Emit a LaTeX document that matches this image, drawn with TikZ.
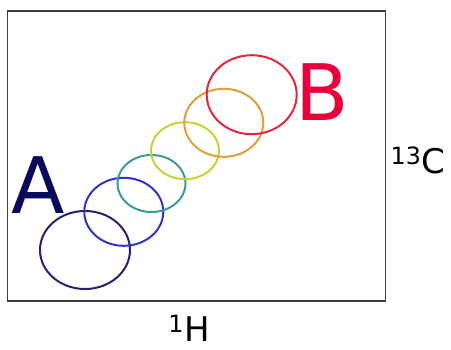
\documentclass[tikz,border=0pt]{standalone}
\usepackage{fontspec}
\setmainfont{DejaVu Sans}
\usetikzlibrary{shapes.geometric}
\definecolor{cnavy}{HTML}{22226E}
\definecolor{cblue}{HTML}{3333C8}
\definecolor{cteal}{HTML}{3C9A98}
\definecolor{cyell}{HTML}{C8D236}
\definecolor{corange}{HTML}{E0A036}
\definecolor{cred}{HTML}{E0283E}
\definecolor{labA}{HTML}{0A0A5C}
\definecolor{labB}{HTML}{E8003C}
\tikzset{
  peak/.style={ellipse, draw=#1, line width=2pt, inner sep=0pt},
  big/.style={font=\fontsize{78}{78}\selectfont, inner sep=0pt},
  axis/.style={font=\fontsize{34}{34}\selectfont, inner sep=0pt, text=black}
}
\begin{document}
\begin{tikzpicture}[x=1pt,y=-1pt]
\useasboundingbox (0,0) rectangle (451,350);
\draw[draw=black!75, line width=1.8pt] (7.5,11) rectangle (385.5,301);
\node[peak=cnavy, minimum width=90pt, minimum height=78pt] (p1) at (85,250) {};
\node[peak=cblue, minimum width=79pt, minimum height=68pt] (p2) at (123.8,211.8) {};
\node[peak=cteal, minimum width=68pt, minimum height=57pt] (p3) at (151.5,183.5) {};
\node[peak=cyell, minimum width=68pt, minimum height=57pt] (p4) at (185,150.7) {};
\node[peak=corange, minimum width=79pt, minimum height=68pt] (p5) at (223.8,122.8) {};
\node[peak=cred, minimum width=90pt, minimum height=79pt] (p6) at (251.7,94.7) {};
\node[big, text=labA, anchor=base] (A) at (38,213.3) {A};
\node[big, text=labB, anchor=base] (B) at (322.5,120.7) {B};
\node[axis, anchor=base] (C) at (418,173.3) {\textsuperscript{13}C};
\node[axis, anchor=base] (H) at (189,342) {\textsuperscript{1}H};
\end{tikzpicture}
\end{document}
